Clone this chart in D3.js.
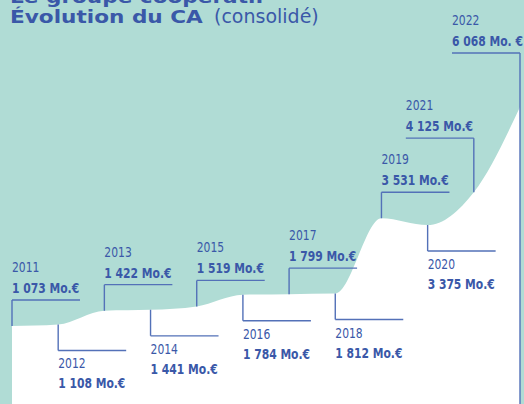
<!DOCTYPE html>
<html>
<head>
<meta charset="utf-8">
<script src="https://cdn.jsdelivr.net/npm/d3@7"></script>
<style>
  body { margin: 0; background: #b0dcd5; }
  svg { display: block; }
</style>
</head>
<body>
<script>
const years = [2011, 2012, 2013, 2014, 2015, 2016, 2017, 2018, 2019, 2020, 2021, 2022];
const values = [1073, 1108, 1422, 1441, 1519, 1784, 1799, 1812, 3531, 3375, 4125, 6068];
const valueLabels = ['1 073 Mo.€', '1 108 Mo.€', '1 422 Mo.€', '1 441 Mo.€', '1 519 Mo.€', '1 784 Mo.€',
    '1 799 Mo.€', '1 812 Mo.€', '3 531 Mo.€', '3 375 Mo.€', '4 125 Mo.€', '6 068 Mo. €'];
const sides = ['up', 'down', 'up', 'down', 'up', 'down', 'up', 'down', 'up', 'down', 'up', 'up'];

const width = 524;
const height = 404;
const blue = '#3a58a8';
const lineBlue = '#5371b8';
const labelFont = '"DejaVu Sans", sans-serif';
const squeeze = 0.77;

const data = years.map((y, i) => ({ year: y, value: values[i], label: valueLabels[i], side: sides[i] }));

const svg = d3.select('body')
    .append('svg')
    .attr('width', width)
    .attr('height', height);

const x = d3.scaleLinear()
    .domain([2011, 2022])
    .range([12, 520]);

const y = d3.scaleLinear()
    .domain([0, 6068])
    .range([373, 107]);

// white area
const area = d3.area()
    .x(d => x(d.year))
    .y0(height)
    .y1(d => y(d.value))
    .curve(d3.curveMonotoneX);

svg.append('path')
    .datum(data)
    .attr('d', area)
    .attr('fill', '#ffffff');

// title (first line is cut by the top edge, as in the original)
svg.append('text')
    .attr('transform', 'translate(10,3) scale(1.2,1)')
    .style('font-family', '"DejaVu Sans", sans-serif')
    .style('font-weight', 'bold')
    .style('font-size', '18px')
    .style('fill', blue)
    .text('Le groupe coopératif');

svg.append('text')
    .attr('transform', 'translate(10,23) scale(1.2,1)')
    .style('font-family', '"DejaVu Sans", sans-serif')
    .style('font-weight', 'bold')
    .style('font-size', '18px')
    .style('fill', blue)
    .text('Évolution du CA');

svg.append('text')
    .attr('x', 214)
    .attr('y', 23)
    .style('font-family', '"DejaVu Sans", sans-serif')
    .style('font-size', '19px')
    .style('fill', blue)
    .text('(consolidé)');

// leaders + labels
const armLen = 68;
const g = svg.append('g').selectAll('g')
    .data(data)
    .join('g');

g.each(function(d) {
    const sel = d3.select(this);
    const px = x(d.year);
    const py = y(d.value);
    const stem = d.year >= 2021 ? 54 : 26;
    const ly = d.side === 'up' ? py - stem : py + stem;
    const leftArm = d.year >= 2021;
    const x0 = leftArm ? px - armLen : px;
    const x1 = leftArm ? px : px + armLen;
    const bottom = d.year === 2022 ? height : py;

    sel.append('path')
        .attr('d', `M${px},${bottom}V${ly}M${x0},${ly}H${x1}`)
        .attr('fill', 'none')
        .attr('stroke', lineBlue)
        .attr('stroke-width', 1.4);

    const yearY = d.side === 'up' ? ly - 28 : ly + 18;
    const valY = d.side === 'up' ? ly - 7 : ly + 38;

    sel.append('text')
        .attr('transform', `translate(${x0},${yearY}) scale(${squeeze},1)`)
        .style('font-family', labelFont)
        .style('font-size', '14px')
        .style('fill', blue)
        .text(d.year);

    sel.append('text')
        .attr('transform', `translate(${x0},${valY}) scale(${squeeze},1)`)
        .style('font-family', labelFont)
        .style('font-weight', 'bold')
        .style('font-size', '14px')
        .style('fill', blue)
        .text(d.label);
});
</script>
</body>
</html>
